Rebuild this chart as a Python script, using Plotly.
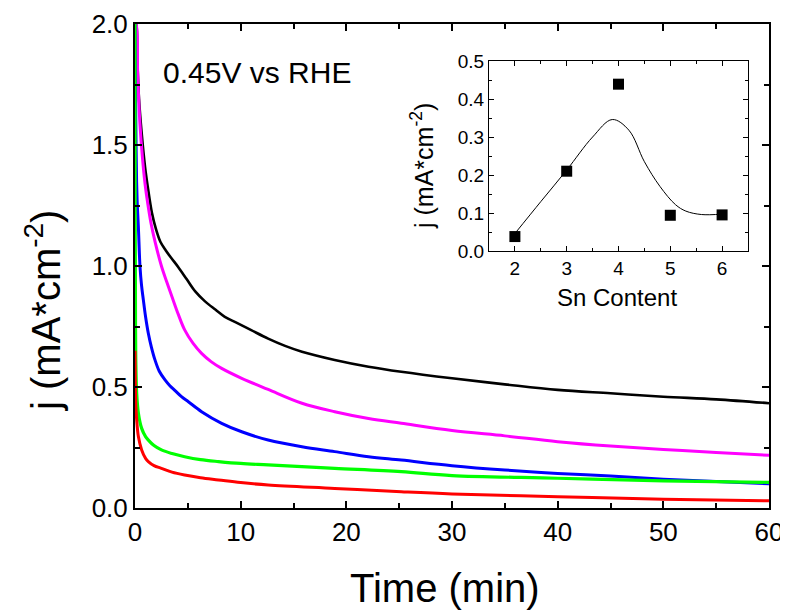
import plotly.graph_objects as go

# ---------------- main chart data ----------------
t_black = [0, 0.1, 0.22, 0.38, 0.63, 0.95, 1.2, 1.6, 2.0, 2.4, 2.9, 3.4, 4.1, 4.9, 5.7, 6.6, 7.6, 8.5, 9.5, 11, 12.6, 14.2, 15.8, 18.9, 22.1, 25.2, 30, 35, 40, 45, 50, 55, 60]
j_black = [2.0, 2.0, 1.85, 1.69, 1.55, 1.41, 1.33, 1.22, 1.15, 1.10, 1.065, 1.035, 0.995, 0.945, 0.895, 0.855, 0.82, 0.79, 0.768, 0.735, 0.70, 0.67, 0.646, 0.612, 0.584, 0.563, 0.536, 0.511, 0.488, 0.474, 0.46, 0.449, 0.433]

t_magenta = [0, 0.1, 0.25, 0.45, 0.7, 0.95, 1.2, 1.5, 1.9, 2.5, 3.0, 3.5, 4.1, 4.7, 5.5, 6.3, 7.2, 8.2, 10.1, 12.6, 15.8, 18.9, 22.1, 25.2, 30, 35, 40, 45, 50, 55, 60]
j_magenta = [2.0, 2.0, 1.8, 1.6, 1.45, 1.34, 1.26, 1.18, 1.10, 1.0, 0.935, 0.873, 0.80, 0.736, 0.68, 0.639, 0.605, 0.577, 0.536, 0.49, 0.433, 0.398, 0.37, 0.35, 0.32, 0.298, 0.274, 0.256, 0.242, 0.229, 0.218]

t_blue = [0, 0.05, 0.1, 0.15, 0.22, 0.32, 0.47, 0.62, 0.79, 1.0, 1.26, 1.55, 1.89, 2.3, 2.84, 3.3, 3.79, 4.4, 5.05, 6.3, 8.2, 10.1, 12.6, 15.8, 18.9, 22.1, 25.2, 30, 35, 40, 45, 50, 55, 60]
j_blue = [2.0, 1.7, 1.5, 1.35, 1.25, 1.16, 1.0, 0.92, 0.86, 0.79, 0.722, 0.665, 0.612, 0.565, 0.529, 0.505, 0.485, 0.46, 0.439, 0.398, 0.35, 0.315, 0.281, 0.253, 0.233, 0.212, 0.198, 0.175, 0.157, 0.143, 0.132, 0.119, 0.109, 0.100]

t_green = [0, 0.02, 0.05, 0.08, 0.16, 0.32, 0.63, 1.0, 1.26, 1.8, 2.5, 3.5, 4.7, 6.2, 7.9, 10, 12.6, 18.9, 25.2, 30, 40, 50, 60]
j_green = [2.0, 1.2, 0.75, 0.6, 0.474, 0.392, 0.329, 0.295, 0.281, 0.258, 0.240, 0.225, 0.212, 0.20, 0.192, 0.184, 0.178, 0.164, 0.150, 0.134, 0.123, 0.112, 0.106]

t_red = [0, 0.03, 0.08, 0.16, 0.32, 0.63, 1.0, 1.26, 1.8, 2.5, 3.5, 4.7, 6.2, 7.9, 10, 12.6, 18.9, 25.2, 30, 40, 50, 60]
j_red = [0.65, 0.52, 0.42, 0.364, 0.295, 0.240, 0.205, 0.192, 0.175, 0.164, 0.148, 0.136, 0.125, 0.116, 0.105, 0.095, 0.081, 0.067, 0.058, 0.047, 0.036, 0.030]

# ---------------- inset data ----------------
sn_content = [2, 3, 4, 5, 6]
j_sn = [0.038, 0.21, 0.439, 0.094, 0.095]
fit_x = [2.0, 2.5, 3.0, 3.5, 3.88, 4.2, 4.5, 4.8, 5.1, 5.3, 5.6, 6.0]
fit_y = [0.046, 0.13, 0.213, 0.30, 0.346, 0.318, 0.235, 0.17, 0.122, 0.105, 0.096, 0.097]

FONT = "Liberation Sans, Arial, sans-serif"

fig = go.Figure()
series = [
    (t_black, j_black, "#000000", 2.6),
    (t_magenta, j_magenta, "#FF00FF", 3.0),
    (t_blue, j_blue, "#0000FF", 3.0),
    (t_green, j_green, "#00FF00", 3.2),
    (t_red, j_red, "#FF0000", 3.0),
]
for tx, jy, col, lw in series:
    fig.add_trace(go.Scatter(x=tx, y=jy, mode="lines",
                             line=dict(color=col, width=lw, shape="spline", smoothing=1.0),
                             xaxis="x", yaxis="y", showlegend=False, cliponaxis=True))

fig.add_trace(go.Scatter(x=fit_x, y=fit_y, mode="lines",
                         line=dict(color="black", width=1, shape="spline", smoothing=1.0),
                         xaxis="x2", yaxis="y2", showlegend=False))
fig.add_trace(go.Scatter(x=sn_content, y=j_sn, mode="markers",
                         marker=dict(symbol="square", size=11, color="black"),
                         xaxis="x2", yaxis="y2", showlegend=False))

# the browser body has an 8px margin; the figure is placed at (8, 8) on the page
OFF = 8
W, H = 788 - OFF, 611 - OFF
L, R, T, B = 135, 769, 24, 508          # plot area in page pixels
pw, ph = R - L, B - T

def px(x):
    return (x - L) / pw

def py(y):
    return (B - y) / ph

axis_common = dict(showgrid=False, zeroline=False, showline=True, linecolor="black",
                   mirror="allticks", ticks="inside", tickcolor="black",
                   automargin=False, ticklabeloverflow="allow")

fig.update_layout(
    width=W, height=H,
    margin=dict(l=L - OFF, r=W - (R - OFF), t=T - OFF, b=H - (B - OFF), pad=0, autoexpand=False),
    paper_bgcolor="white", plot_bgcolor="white",
    font=dict(family=FONT, color="black"),
    xaxis=dict(domain=[0, 1], range=[0, 60], dtick=10, tick0=0, linewidth=2, tickwidth=2, ticklen=7,
               minor=dict(dtick=5, ticks="inside", ticklen=5, tickwidth=2, tickcolor="black"),
               tickfont=dict(size=26), **axis_common),
    yaxis=dict(domain=[0, 1], range=[0, 2.0], dtick=0.5, tick0=0, tickformat=".1f", linewidth=2, tickwidth=2,
               ticklen=7,
               minor=dict(dtick=0.25, ticks="inside", ticklen=5, tickwidth=2, tickcolor="black"),
               tickfont=dict(size=26), **axis_common),
    xaxis2=dict(domain=[px(489), px(748)], anchor="y2", range=[1.5, 6.5], dtick=1, tick0=0,
                linewidth=1, tickwidth=1, ticklen=5,
                minor=dict(dtick=0.5, ticks="inside", ticklen=3, tickwidth=1, tickcolor="black"),
                tickfont=dict(size=19), **axis_common),
    yaxis2=dict(domain=[py(251), py(61)], anchor="x2", range=[0, 0.5], dtick=0.1, tick0=0, tickformat=".1f",
                linewidth=1, tickwidth=1, ticklen=5,
                minor=dict(dtick=0.05, ticks="inside", ticklen=3, tickwidth=1, tickcolor="black"),
                tickfont=dict(size=19), **axis_common),
    annotations=[
        dict(text="Time (min)", x=px(445), y=py(588), xref="paper", yref="paper",
             showarrow=False, font=dict(size=40), xanchor="center", yanchor="middle"),
        dict(text="j (mA*cm<sup>-2</sup>)", x=px(43), y=py(310), xref="paper", yref="paper",
             showarrow=False, font=dict(size=40), textangle=-90, xanchor="center", yanchor="middle"),
        dict(text="0.45V vs RHE", x=px(161), y=py(72), xref="paper", yref="paper",
             showarrow=False, font=dict(size=30), xanchor="left", yanchor="middle"),
        dict(text="Sn Content", x=px(617), y=py(297), xref="paper", yref="paper",
             showarrow=False, font=dict(size=24), xanchor="center", yanchor="middle"),
        dict(text="j (mA*cm<sup>-2</sup>)", x=px(422), y=py(166), xref="paper", yref="paper",
             showarrow=False, font=dict(size=25), textangle=-90, xanchor="center", yanchor="middle"),
    ],
)

fig.write_html("out.html")
